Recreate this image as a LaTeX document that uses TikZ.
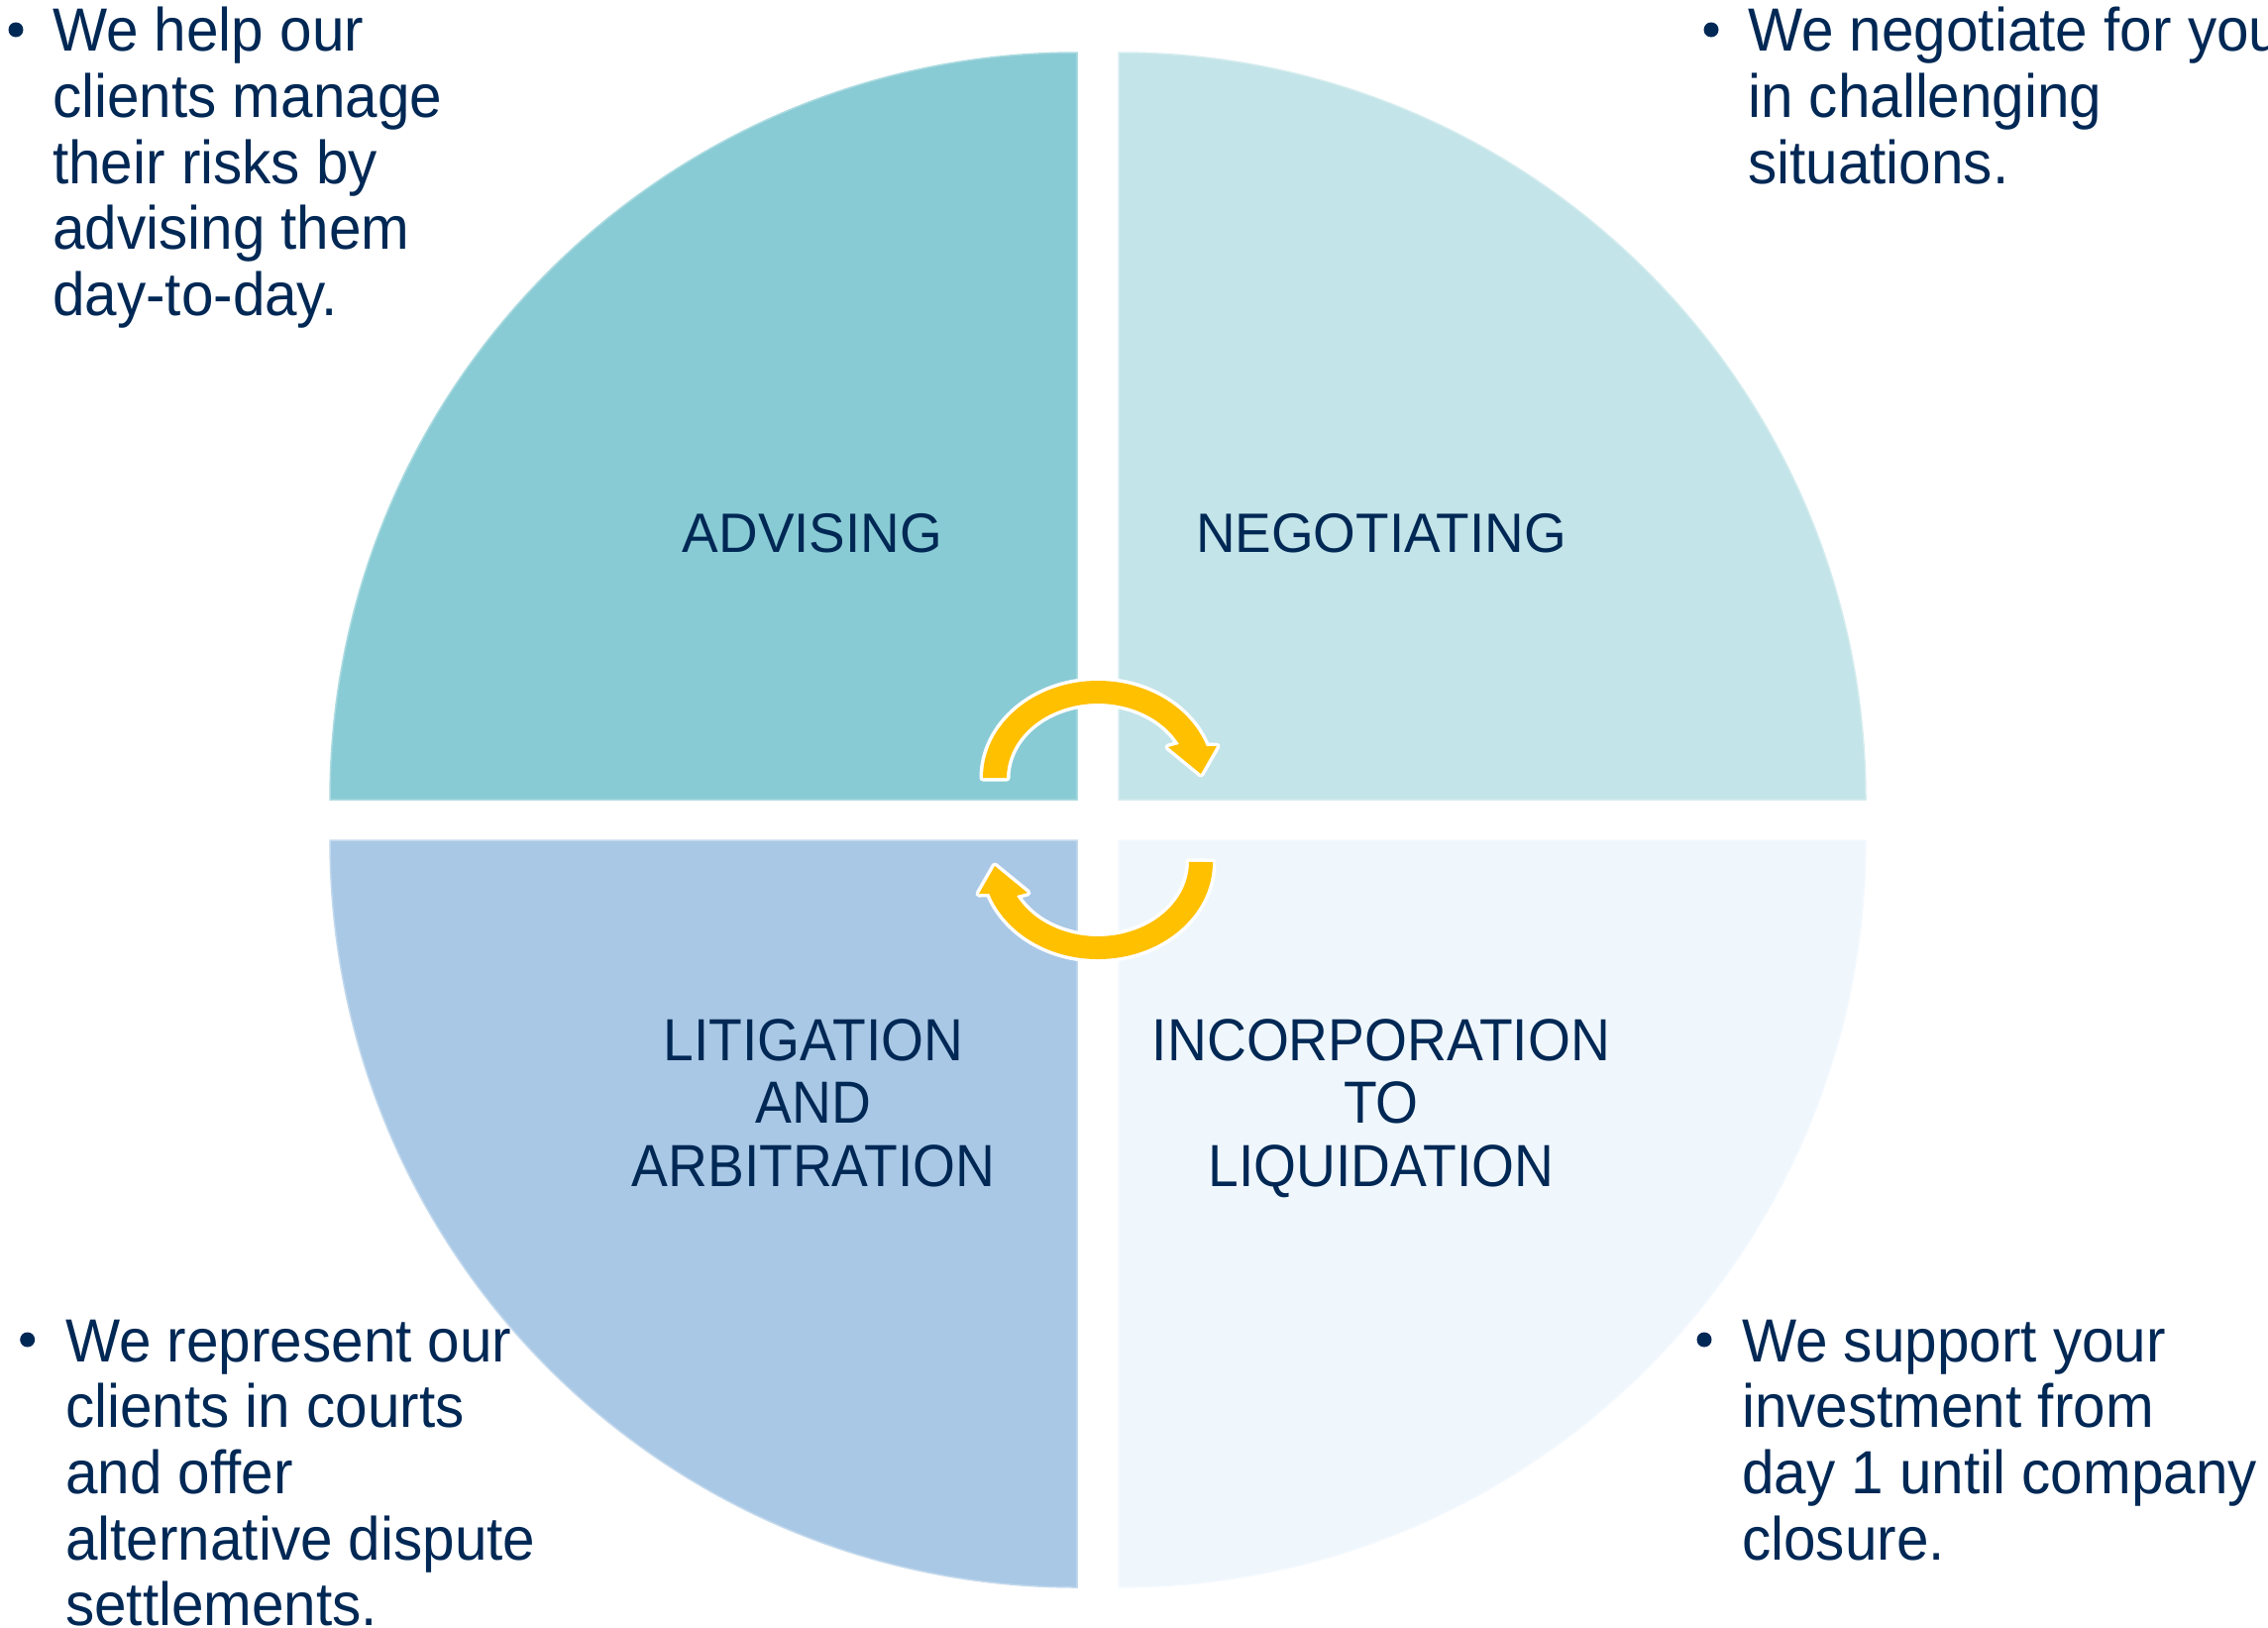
\documentclass[tikz,border=0pt]{standalone}
\usepackage{fontspec}
\setmainfont{Liberation Sans}
\newfontfamily\cornerfont[FakeStretch=0.95]{Liberation Sans}
\newfontfamily\labfont[FakeStretch=0.92]{Liberation Sans}
\newfontfamily\labfontb[FakeStretch=0.98]{Liberation Sans}
\definecolor{qtl}{HTML}{89CBD4}
\definecolor{qtr}{HTML}{C3E4E8}
\definecolor{qbl}{HTML}{A9C8E5}
\definecolor{qbr}{HTML}{EFF7FD}
\definecolor{navy}{RGB}{0,40,85}
\definecolor{gold}{HTML}{FFC000}
\tikzset{
  quad/.style={line width=1.5pt},
  cornertext/.style={anchor=base west, inner sep=0pt, text=navy,
    font=\cornerfont\fontsize{61.5pt}{66.7pt}\selectfont},
  biglabel/.style={anchor=base, inner sep=0pt, text=navy,
    font=\labfont\fontsize{60pt}{63.5pt}\selectfont},
  smalllabel/.style={anchor=base, inner sep=0pt, text=navy,
    font=\labfontb\fontsize{56pt}{63.5pt}\selectfont},
  bulletdot/.style={circle, fill=navy, inner sep=0pt, minimum size=15pt},
  cyclearrow/.style={fill=gold, line join=round,
    preaction={draw=white, line width=7pt, line join=round}}
}
\begin{document}
\begin{tikzpicture}[x=1pt,y=-1pt]
\useasboundingbox (0,0) rectangle (2289,1642);
% quadrants
\fill[qtl, draw=qtl!70!white, quad] (1087,807) -- (333,807) arc[start angle=180, end angle=270, radius=754] -- cycle;
\fill[qtr, draw=qtr!70!white, quad] (1129,807) -- (1129,53) arc[start angle=270, end angle=360, radius=754] -- cycle;
\fill[qbl, draw=qbl!70!white, quad] (1087,848) -- (333,848) arc[start angle=180, end angle=90, radius=754] -- cycle;
\fill[qbr, draw=qbr!70!white, quad] (1129,848) -- (1883,848) arc[start angle=0, end angle=90, radius=754] -- cycle;
% cycle arrows
\path[cyclearrow] (992,785) arc[start angle=180, end angle=341, x radius=116, y radius=98]
  -- (1228,753) -- (1212,781) -- (1179,754) -- (1190,751)
  arc[start angle=333, end angle=180, x radius=92, y radius=75] -- cycle;
\begin{scope}[rotate around={180:(1108,827.5)}]
\path[cyclearrow] (992,785) arc[start angle=180, end angle=341, x radius=116, y radius=98]
  -- (1228,753) -- (1212,781) -- (1179,754) -- (1190,751)
  arc[start angle=333, end angle=180, x radius=92, y radius=75] -- cycle;
\end{scope}
% quadrant labels
\node[smalllabel] (adv) at (820,557) {ADVISING};
\node[smalllabel] (neg) at (1394,557) {NEGOTIATING};
\node[biglabel] (lit) at (821,1070) {\begin{tabular}[t]{@{}c@{}}LITIGATION\\AND\\ARBITRATION\end{tabular}};
\node[biglabel] (inc) at (1394,1070) {\begin{tabular}[t]{@{}c@{}}INCORPORATION\\TO\\LIQUIDATION\end{tabular}};
% corner texts
\node[bulletdot] (b1) at (16,30) {};
\node[cornertext] (t1) at (53,51.7) {\begin{tabular}[t]{@{}l@{}}We help our\\clients manage\\their risks by\\advising them\\day-to-day.\end{tabular}};
\node[bulletdot] (b2) at (1727,30) {};
\node[cornertext] (t2) at (1764,51.7) {\begin{tabular}[t]{@{}l@{}}We negotiate for you\\in challenging\\situations.\end{tabular}};
\node[bulletdot] (b3) at (27.7,1352) {};
\node[cornertext] (t3) at (66,1374) {\begin{tabular}[t]{@{}l@{}}We represent our\\clients in courts\\and offer\\alternative dispute\\settlements.\end{tabular}};
\node[bulletdot] (b4) at (1720,1352) {};
\node[cornertext] (t4) at (1758,1374) {\begin{tabular}[t]{@{}l@{}}We support your\\investment from\\day 1 until company\\closure.\end{tabular}};
\end{tikzpicture}
\end{document}
